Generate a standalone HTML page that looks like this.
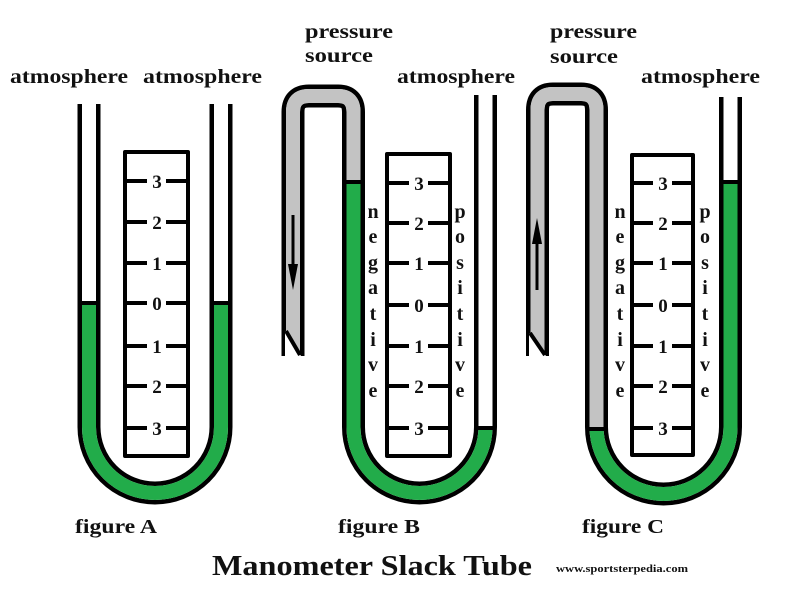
<!DOCTYPE html>
<html><head><meta charset="utf-8"><style>
html,body{margin:0;padding:0;background:#fff;}
svg{display:block;}
text{font-family:"Liberation Serif",serif;font-weight:bold;fill:#111;}
</style></head><body>
<svg width="800" height="600" viewBox="0 0 800 600" xmlns="http://www.w3.org/2000/svg">
<rect width="800" height="600" fill="#fff"/>
<g fill="none" stroke-linejoin="round">
<!-- Figure A -->
<path d="M89,104 L89,427 A66,66 0 0 0 221,427 L221,104" stroke="#000" stroke-width="23"/>
<path d="M89,104 L89,427 A66,66 0 0 0 221,427 L221,104" stroke="#fff" stroke-width="14"/>
<path d="M89,304 L89,427 A66,66 0 0 0 221,427 L221,304" stroke="#22ac4a" stroke-width="14"/>
<line x1="80" y1="303" x2="98" y2="303" stroke="#000" stroke-width="4"/>
<line x1="212" y1="303" x2="230" y2="303" stroke="#000" stroke-width="4"/>
<!-- Figure B -->
<path d="M293,356 L293,112 Q293,96 309,96 L338,96 Q353.5,96 353.5,112 L353.5,427 A66,66 0 0 0 485.5,427 L485.5,95" stroke="#000" stroke-width="23"/>
<path d="M293,356 L293,112 Q293,96 309,96 L338,96 Q353.5,96 353.5,112 L353.5,427 A66,66 0 0 0 485.5,427 L485.5,95" stroke="#fff" stroke-width="14"/>
<path d="M293,356 L293,112 Q293,96 309,96 L338,96 Q353.5,96 353.5,112 L353.5,183" stroke="#c3c3c3" stroke-width="14"/>
<path d="M353.5,183 L353.5,427 A66,66 0 0 0 485.5,427" stroke="#22ac4a" stroke-width="14"/>
<line x1="345" y1="182" x2="363" y2="182" stroke="#000" stroke-width="4"/>
<line x1="477" y1="428" x2="495" y2="428" stroke="#000" stroke-width="4"/>
<polygon points="285,331 301,356 285,360" fill="#fff"/>
<line x1="286" y1="331" x2="300" y2="355" stroke="#000" stroke-width="4"/>
<line x1="293" y1="215" x2="293" y2="278" stroke="#000" stroke-width="3"/>
<polygon points="288,264 298,264 293,290" fill="#000"/>
<!-- Figure C -->
<path d="M537.5,356 L537.5,110 Q537.5,94 553,94 L581,94 Q596.5,94 596.5,110 L596.5,427 A67,67 0 0 0 730.5,427 L730.5,97" stroke="#000" stroke-width="23"/>
<path d="M537.5,356 L537.5,110 Q537.5,94 553,94 L581,94 Q596.5,94 596.5,110 L596.5,427 A67,67 0 0 0 730.5,427 L730.5,97" stroke="#fff" stroke-width="14"/>
<path d="M537.5,356 L537.5,110 Q537.5,94 553,94 L581,94 Q596.5,94 596.5,110 L596.5,427" stroke="#c3c3c3" stroke-width="14"/>
<path d="M596.5,427 A67,67 0 0 0 730.5,427 L730.5,183" stroke="#22ac4a" stroke-width="14"/>
<line x1="588" y1="429" x2="606" y2="429" stroke="#000" stroke-width="4"/>
<line x1="722" y1="182" x2="740" y2="182" stroke="#000" stroke-width="4"/>
<polygon points="529,333 546,356 529,360" fill="#fff"/>
<line x1="530" y1="333" x2="545" y2="355" stroke="#000" stroke-width="4"/>
<line x1="537" y1="290" x2="537" y2="232" stroke="#000" stroke-width="3"/>
<polygon points="532,244 542,244 537,218" fill="#000"/>
<!-- scale boxes -->
<rect x="125" y="152" width="63" height="304" fill="#fff" stroke="#000" stroke-width="4"/>
<rect x="387" y="154" width="63" height="302" fill="#fff" stroke="#000" stroke-width="4"/>
<rect x="632" y="155" width="61" height="300" fill="#fff" stroke="#000" stroke-width="4"/>
</g>
<g stroke="#000" stroke-width="4">
<path d="M125,181H147M166,181H188M125,222H147M166,222H188M125,263H147M166,263H188M125,303H147M166,303H188M125,346H147M166,346H188M125,386H147M166,386H188M125,428H147M166,428H188"/>
<path d="M387,183H409M428,183H450M387,223H409M428,223H450M387,263H409M428,263H450M387,305H409M428,305H450M387,346H409M428,346H450M387,386H409M428,386H450M387,428H409M428,428H450"/>
<path d="M632,183H653M672,183H693M632,223H653M672,223H693M632,263H653M672,263H693M632,305H653M672,305H693M632,346H653M672,346H693M632,386H653M672,386H693M632,428H653M672,428H693"/>
</g>
<g font-size="19" text-anchor="middle">
<text x="157" y="188">3</text><text x="157" y="229">2</text><text x="157" y="270">1</text><text x="157" y="310">0</text><text x="157" y="353">1</text><text x="157" y="393">2</text><text x="157" y="435">3</text>
<text x="419" y="190">3</text><text x="419" y="230">2</text><text x="419" y="270">1</text><text x="419" y="312">0</text><text x="419" y="353">1</text><text x="419" y="393">2</text><text x="419" y="435">3</text>
<text x="663" y="190">3</text><text x="663" y="230">2</text><text x="663" y="270">1</text><text x="663" y="312">0</text><text x="663" y="353">1</text><text x="663" y="393">2</text><text x="663" y="435">3</text>
</g>
<g font-size="20" text-anchor="middle">
<text x="373" y="218">n</text><text x="373" y="243">e</text><text x="373" y="269">g</text><text x="373" y="294">a</text><text x="373" y="320">t</text><text x="373" y="346">i</text><text x="373" y="371">v</text><text x="373" y="397">e</text>
<text x="460" y="218">p</text><text x="460" y="243">o</text><text x="460" y="269">s</text><text x="460" y="294">i</text><text x="460" y="320">t</text><text x="460" y="346">i</text><text x="460" y="371">v</text><text x="460" y="397">e</text>
<text x="620" y="218">n</text><text x="620" y="243">e</text><text x="620" y="269">g</text><text x="620" y="294">a</text><text x="620" y="320">t</text><text x="620" y="346">i</text><text x="620" y="371">v</text><text x="620" y="397">e</text>
<text x="705" y="218">p</text><text x="705" y="243">o</text><text x="705" y="269">s</text><text x="705" y="294">i</text><text x="705" y="320">t</text><text x="705" y="346">i</text><text x="705" y="371">v</text><text x="705" y="397">e</text>
</g>
<g font-size="20">
<text x="10" y="83" textLength="118" lengthAdjust="spacingAndGlyphs">atmosphere</text>
<text x="143" y="83" textLength="119" lengthAdjust="spacingAndGlyphs">atmosphere</text>
<text x="397" y="83" textLength="118" lengthAdjust="spacingAndGlyphs">atmosphere</text>
<text x="641" y="83" textLength="119" lengthAdjust="spacingAndGlyphs">atmosphere</text>
<text x="305" y="38" textLength="88" lengthAdjust="spacingAndGlyphs">pressure</text>
<text x="305" y="62" textLength="68" lengthAdjust="spacingAndGlyphs">source</text>
<text x="550" y="38" textLength="87" lengthAdjust="spacingAndGlyphs">pressure</text>
<text x="550" y="63" textLength="68" lengthAdjust="spacingAndGlyphs">source</text>
<text x="75" y="533" textLength="82" lengthAdjust="spacingAndGlyphs">figure A</text>
<text x="338" y="533" textLength="82" lengthAdjust="spacingAndGlyphs">figure B</text>
<text x="582" y="533" textLength="82" lengthAdjust="spacingAndGlyphs">figure C</text>
</g>
<text x="212" y="575" font-size="29" textLength="320" lengthAdjust="spacingAndGlyphs">Manometer Slack Tube</text>
<text x="556" y="572" font-size="10" textLength="132" lengthAdjust="spacingAndGlyphs">www.sportsterpedia.com</text>
</svg>
</body></html>
